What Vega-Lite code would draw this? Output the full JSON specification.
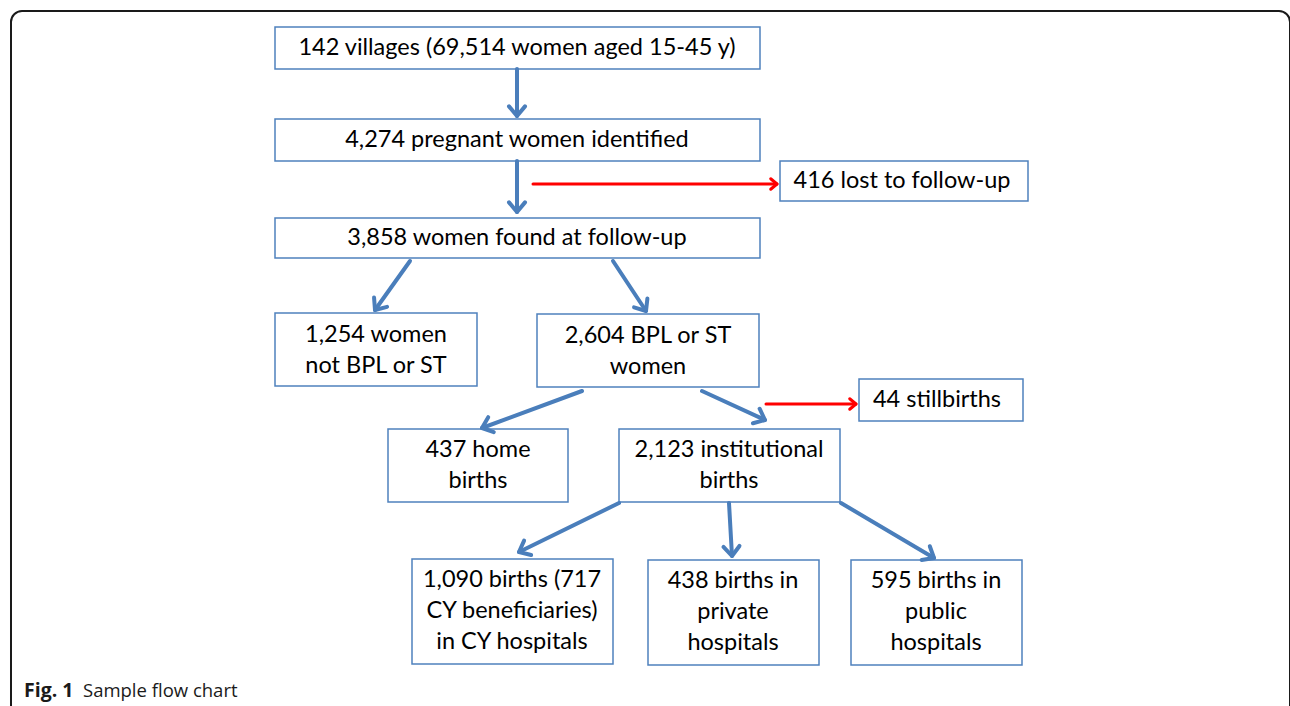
{
  "$schema": "https://vega.github.io/schema/vega-lite/v6.json",
  "width": 1290,
  "height": 706,
  "autosize": {"type": "fit", "contains": "padding"},
  "padding": 0,
  "background": "white",
  "config": {"view": {"stroke": null}},
  "datasets": {
    "frame": [{"x1": 11, "x2": 1290, "y1": 11, "y2": 740}],
    "boxes": [
      {"x1": 275, "x2": 760, "y1": 27, "y2": 69, "cx": 517, "ty": 48, "label": "142 villages (69,514 women aged 15-45 y)"},
      {"x1": 275, "x2": 760, "y1": 119, "y2": 161, "cx": 517, "ty": 140, "label": "4,274 pregnant women identified"},
      {"x1": 780, "x2": 1028, "y1": 161, "y2": 201, "cx": 902, "ty": 181, "label": "416 lost to follow-up"},
      {"x1": 275, "x2": 760, "y1": 218, "y2": 258, "cx": 517, "ty": 238, "label": "3,858 women found at follow-up"},
      {"x1": 275, "x2": 477, "y1": 313, "y2": 386, "cx": 376, "ty": 335, "label": "1,254 women\nnot BPL or ST"},
      {"x1": 537, "x2": 759, "y1": 314, "y2": 387, "cx": 648, "ty": 336, "label": "2,604 BPL or ST\nwomen"},
      {"x1": 859, "x2": 1023, "y1": 379, "y2": 421, "cx": 937, "ty": 400, "label": "44 stillbirths"},
      {"x1": 388, "x2": 568, "y1": 429, "y2": 502, "cx": 478, "ty": 450, "label": "437 home\nbirths"},
      {"x1": 619, "x2": 840, "y1": 429, "y2": 502, "cx": 729, "ty": 450, "label": "2,123 institutional\nbirths"},
      {"x1": 412, "x2": 613, "y1": 559, "y2": 664, "cx": 512, "ty": 580, "label": "1,090 births (717\nCY beneficiaries)\nin CY hospitals"},
      {"x1": 648, "x2": 819, "y1": 560, "y2": 665, "cx": 733, "ty": 581, "label": "438 births in\nprivate\nhospitals"},
      {"x1": 851, "x2": 1022, "y1": 560, "y2": 665, "cx": 936, "ty": 581, "label": "595 births in\npublic\nhospitals"}
    ],
    "arrows": [
      {"kind": "flow", "x": 517, "y": 69, "x2": 517, "y2": 116, "ang": 0},
      {"kind": "flow", "x": 517, "y": 161, "x2": 517, "y2": 212, "ang": 0},
      {"kind": "excl", "x": 533, "y": 184, "x2": 777, "y2": 184, "ang": -90},
      {"kind": "flow", "x": 410, "y": 261, "x2": 375, "y2": 310, "ang": 35.5},
      {"kind": "flow", "x": 613, "y": 261, "x2": 646, "y2": 311, "ang": -33.4},
      {"kind": "flow", "x": 582, "y": 391, "x2": 482, "y2": 428, "ang": 69.7},
      {"kind": "flow", "x": 702, "y": 391, "x2": 765, "y2": 420, "ang": -65.3},
      {"kind": "excl", "x": 766, "y": 404, "x2": 856, "y2": 404, "ang": -90},
      {"kind": "flow", "x": 619, "y": 503, "x2": 519, "y2": 552, "ang": 63.9},
      {"kind": "flow", "x": 729, "y": 503, "x2": 732, "y2": 556, "ang": -3.2},
      {"kind": "flow", "x": 841, "y": 503, "x2": 934, "y2": 558, "ang": -59.4}
    ],
    "caption": [
      {"x": 24, "y": 697, "txt": "Fig. 1", "w": "bold"},
      {"x": 83, "y": 697, "txt": "Sample flow chart", "w": "normal"}
    ]
  },
  "layer": [
    {
      "data": {"name": "frame"},
      "mark": {"type": "rect", "fill": null, "stroke": "#1a1a1a", "strokeWidth": 2, "cornerRadius": 11, "clip": true},
      "encoding": {
        "x": {"field": "x1", "type": "quantitative", "scale": {"domain": [0, 1290], "nice": false, "zero": false}, "axis": null},
        "x2": {"field": "x2"},
        "y": {"field": "y1", "type": "quantitative", "scale": {"domain": [0, 706], "nice": false, "zero": false, "reverse": true}, "axis": null},
        "y2": {"field": "y2"}
      }
    },
    {
      "data": {"name": "boxes"},
      "mark": {"type": "rect", "fill": "white", "stroke": "#4f81bd", "strokeWidth": 1.5},
      "encoding": {
        "x": {"field": "x1", "type": "quantitative"},
        "x2": {"field": "x2"},
        "y": {"field": "y1", "type": "quantitative"},
        "y2": {"field": "y2"}
      }
    },
    {
      "data": {"name": "boxes"},
      "mark": {"type": "text", "font": "Lato", "fontSize": 23.5, "color": "black", "align": "center", "baseline": "middle", "lineBreak": "\n", "lineHeight": 31},
      "encoding": {
        "x": {"field": "cx", "type": "quantitative"},
        "y": {"field": "ty", "type": "quantitative"},
        "text": {"field": "label"}
      }
    },
    {
      "data": {"name": "arrows"},
      "transform": [{"filter": "datum.kind === 'flow'"}],
      "mark": {"type": "rule", "color": "#4a7ebb", "strokeWidth": 4, "strokeCap": "round"},
      "encoding": {
        "x": {"field": "x", "type": "quantitative"},
        "y": {"field": "y", "type": "quantitative"},
        "x2": {"field": "x2"},
        "y2": {"field": "y2"}
      }
    },
    {
      "data": {"name": "arrows"},
      "transform": [{"filter": "datum.kind === 'excl'"}],
      "mark": {"type": "rule", "color": "#ff0000", "strokeWidth": 3, "strokeCap": "round"},
      "encoding": {
        "x": {"field": "x", "type": "quantitative"},
        "y": {"field": "y", "type": "quantitative"},
        "x2": {"field": "x2"},
        "y2": {"field": "y2"}
      }
    },
    {
      "data": {"name": "arrows"},
      "transform": [{"filter": "datum.kind === 'flow'"}],
      "mark": {"type": "point", "shape": "M-1,-1.2L0,0L1,-1.2", "filled": false, "color": "#4a7ebb", "strokeWidth": 4, "strokeCap": "round", "strokeJoin": "round", "size": 256, "opacity": 1},
      "encoding": {
        "x": {"field": "x2", "type": "quantitative"},
        "y": {"field": "y2", "type": "quantitative"},
        "angle": {"field": "ang", "type": "quantitative", "scale": null}
      }
    },
    {
      "data": {"name": "arrows"},
      "transform": [{"filter": "datum.kind === 'excl'"}],
      "mark": {"type": "point", "shape": "M-1,-1.2L0,0L1,-1.2", "filled": false, "color": "#ff0000", "strokeWidth": 3, "strokeCap": "round", "strokeJoin": "round", "size": 110, "opacity": 1},
      "encoding": {
        "x": {"field": "x2", "type": "quantitative"},
        "y": {"field": "y2", "type": "quantitative"},
        "angle": {"field": "ang", "type": "quantitative", "scale": null}
      }
    },
    {
      "data": {"name": "caption"},
      "transform": [{"filter": "datum.w === 'bold'"}],
      "mark": {"type": "text", "font": "Open Sans", "fontSize": 19.5, "fontWeight": "bold", "color": "#1a1a1a", "align": "left", "baseline": "alphabetic"},
      "encoding": {
        "x": {"field": "x", "type": "quantitative"},
        "y": {"field": "y", "type": "quantitative"},
        "text": {"field": "txt"}
      }
    },
    {
      "data": {"name": "caption"},
      "transform": [{"filter": "datum.w === 'normal'"}],
      "mark": {"type": "text", "font": "Open Sans", "fontSize": 18.5, "color": "#1a1a1a", "align": "left", "baseline": "alphabetic"},
      "encoding": {
        "x": {"field": "x", "type": "quantitative"},
        "y": {"field": "y", "type": "quantitative"},
        "text": {"field": "txt"}
      }
    }
  ]
}
